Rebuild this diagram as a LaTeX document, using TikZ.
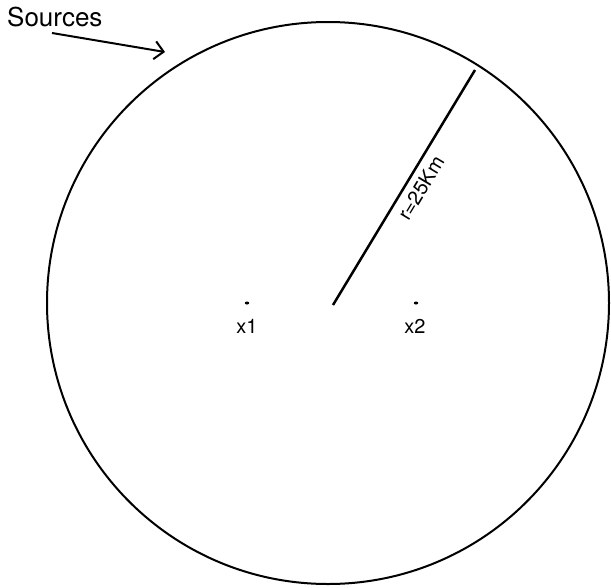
\documentclass[tikz,border=0pt]{standalone}
\usepackage{fontspec}
\setmainfont{TeX Gyre Heros}
\usetikzlibrary{arrows.meta,positioning,shapes.geometric}

\begin{document}
\begin{tikzpicture}[x=1pt,y=-1pt,
    spot/.style={ellipse,fill=black,inner sep=0pt,minimum width=4.5pt,minimum height=3pt},
    lbl/.style={font=\fontsize{20}{24}\selectfont,inner sep=0pt}]
        \useasboundingbox (0,0) rectangle (611,587);
        % area of the sources
        \coordinate (centre) at (328,303);
        \draw[line width=2pt] (centre) circle (281);
        % radius
        \coordinate (rstart) at (333,305);
        \coordinate (rend) at (475,70);
        \draw[line width=2.5pt] (rstart) -- node[pos=0.53,sloped,below=6pt,lbl]{r=25Km} (rend);
        % the two points
        \node[spot] (x1) at (247,303) {};
        \node[spot] (x2) at (416,303) {};
        \node[lbl,anchor=base] (x1lbl) at (247,333) {x1};
        \node[lbl,anchor=base] (x2lbl) at (415,333) {x2};
        % label with arrow
        \node[font=\fontsize{26}{30}\selectfont,inner sep=0pt,anchor=base west] (src) at (7,26) {Sources};
        \coordinate (tail) at (52,33);
        \coordinate (tip) at (165,52);
        \draw[line width=2pt,-{Straight Barb[length=9pt,width=18pt,line width=2pt]}] (tail) -- (tip);
    \end{tikzpicture}
\end{document}
